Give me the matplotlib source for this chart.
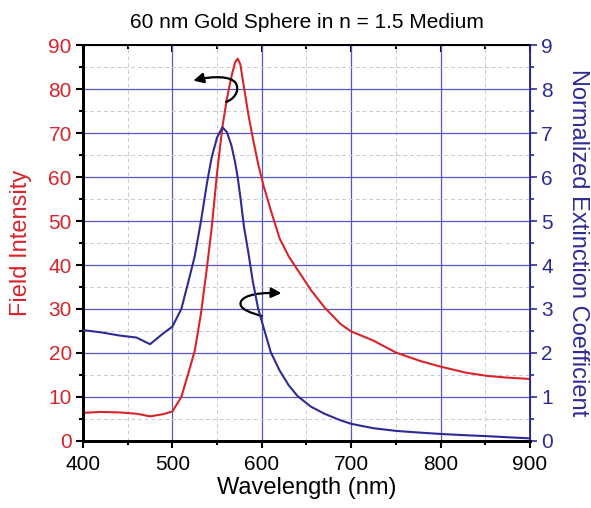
import numpy as np
from matplotlib import pyplot as plt
import matplotlib.ticker as ticker
from matplotlib.path import Path
from matplotlib.patches import FancyArrowPatch

plt.rcParams['font.family'] = ['Liberation Sans', 'DejaVu Sans']

red = '#d8242a'
blue = '#2e2b96'
grid_blue = '#5656c0'

# values
wavelength = [400, 420, 440, 460, 475, 490, 500, 510, 518, 525, 532, 539, 544, 550,
              556, 561, 566, 570, 573, 576, 580, 585, 590, 596, 602, 610, 620,
              630, 640, 655, 670, 688, 700, 725, 750, 777, 800, 829, 852, 875, 900]
field_intensity = [6.4, 6.6, 6.5, 6.2, 5.6, 6.1, 6.7, 10.0, 15.5, 20.5, 29.0, 40.0, 48.5, 61.0,
                   71.5, 77.8, 82.8, 86.0, 86.9, 85.6, 80.5, 74.2, 68.8, 62.9, 58.0, 52.5, 46.0,
                   42.0, 38.9, 34.3, 30.4, 26.6, 24.9, 22.8, 20.1, 18.2, 16.9, 15.5, 14.8, 14.4, 14.1]
extinction = [2.52, 2.47, 2.40, 2.35, 2.20, 2.45, 2.60, 3.00, 3.63, 4.20, 5.00, 5.90, 6.45, 6.90,
              7.13, 7.02, 6.72, 6.35, 6.00, 5.55, 4.88, 4.28, 3.62, 3.00, 2.58, 2.02, 1.60,
              1.27, 1.02, 0.78, 0.62, 0.47, 0.39, 0.29, 0.23, 0.19, 0.16, 0.13, 0.11, 0.085, 0.06]

fig = plt.figure(figsize=(5.91, 5.08), dpi=100)
ax1 = fig.add_axes((0.1404, 0.1319, 0.7564, 0.7795))
ax2 = ax1.twinx()

ax1.plot(wavelength, field_intensity, color=red, lw=1.5, zorder=3)
ax2.plot(wavelength, extinction, color=blue, lw=1.5, zorder=3)

ax1.set_xlim(400, 900)
ax1.set_ylim(0, 90)
ax2.set_ylim(0, 9)

ax1.xaxis.set_major_locator(ticker.MultipleLocator(100))
ax1.xaxis.set_minor_locator(ticker.MultipleLocator(50))
ax1.yaxis.set_major_locator(ticker.MultipleLocator(10))
ax1.yaxis.set_minor_locator(ticker.MultipleLocator(5))
ax2.yaxis.set_major_locator(ticker.MultipleLocator(1))
ax2.yaxis.set_minor_locator(ticker.MultipleLocator(0.5))

ax1.grid(which='major', color=grid_blue, lw=0.9, ls='-')
ax1.grid(which='minor', color='#c8c8d8', lw=0.7, ls=(0, (4, 3)))
ax1.set_axisbelow(True)

ax1.tick_params(axis='x', which='both', direction='out', labelsize=15,
                colors='black', width=1.5, pad=5)
ax1.tick_params(axis='x', which='major', length=5)
ax1.tick_params(axis='x', which='minor', length=3)
ax1.tick_params(axis='y', which='both', direction='out', labelsize=15,
                labelcolor=red, color='black', width=1.5, pad=3)
ax1.tick_params(axis='y', which='major', length=5)
ax1.tick_params(axis='y', which='minor', length=3)
ax2.tick_params(axis='y', which='both', direction='out', labelsize=15,
                colors=blue, width=1.2, pad=3)
ax2.tick_params(axis='y', which='major', length=5)
ax2.tick_params(axis='y', which='minor', length=3)

# top ticks point inward
top = ax1.secondary_xaxis('top')
top.xaxis.set_major_locator(ticker.MultipleLocator(100))
top.xaxis.set_minor_locator(ticker.MultipleLocator(50))
top.tick_params(which='both', direction='in', labeltop=False, width=1.5)
top.tick_params(which='major', length=5)
top.tick_params(which='minor', length=3)
top.spines['top'].set_linewidth(1.3)

for s in ['left', 'bottom']:
    ax1.spines[s].set_linewidth(2.0)
    ax2.spines[s].set_linewidth(2.0)
ax1.spines['top'].set_linewidth(1.3)
ax2.spines['top'].set_linewidth(1.3)
ax2.spines['right'].set_color(blue)
ax2.spines['right'].set_linewidth(1.3)

ax1.set_xlabel('Wavelength (nm)', fontsize=17, labelpad=2)
ax1.set_ylabel('Field Intensity', fontsize=17, color=red, labelpad=12)
ax2.set_ylabel('Normalized Extinction Coefficient', fontsize=17, color=blue,
               rotation=270, labelpad=26)
ax1.set_title('60 nm Gold Sphere in n = 1.5 Medium', fontsize=15, pad=12)

# curved arrows pointing to each curve's axis
p1 = Path([(560, 77.1), (568, 77.5), (576, 79.5), (571, 81.3),
           (566, 83.0), (545, 83.0), (523.4, 81.9)],
          [Path.MOVETO, Path.CURVE4, Path.CURVE4, Path.CURVE4,
           Path.CURVE4, Path.CURVE4, Path.CURVE4])
ax1.add_patch(FancyArrowPatch(path=p1, arrowstyle='-|>,head_length=6,head_width=3',
                              color='black', lw=1.6, zorder=5))
p2 = Path([(600, 28.4), (590, 29.0), (572, 30.0), (577, 31.8),
           (581, 33.3), (600, 33.8), (622, 33.6)],
          [Path.MOVETO, Path.CURVE4, Path.CURVE4, Path.CURVE4,
           Path.CURVE4, Path.CURVE4, Path.CURVE4])
ax1.add_patch(FancyArrowPatch(path=p2, arrowstyle='-|>,head_length=6,head_width=3',
                              color='black', lw=1.6, zorder=5))

fig.savefig('out.png', dpi=100)
